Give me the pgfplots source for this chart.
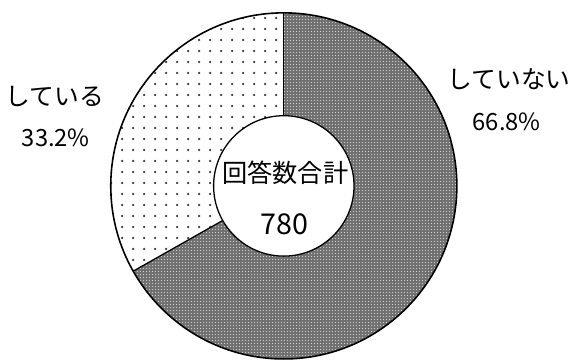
\documentclass[border=0pt]{standalone}
\usepackage{fontspec}
\setmainfont{Noto Sans CJK JP}
\usepackage{pgfplots}
\usepackage{pgfplotstable}
\pgfplotsset{compat=1.18}
\usetikzlibrary{patterns,patterns.meta}

\tikzdeclarepattern{
  name=sparsedots,
  type=uncolored,
  bounding box={(0,0) and (10.7pt,10.7pt)},
  tile size={(10.7pt,10.7pt)},
  code={\fill (5.35pt,5.35pt) circle (1.3pt);}
}
\tikzdeclarepattern{
  name=finedots,
  type=uncolored,
  bounding box={(0,0) and (3pt,3pt)},
  tile size={(3pt,3pt)},
  code={\fill (1.5pt,1.5pt) circle (0.6pt);}
}

% share of answers (%), total 780
\pgfplotstableread{
label share
notdoing 66.8
doing 33.2
}\answers

\begin{document}
\begin{tikzpicture}
\pgfplotstablegetelem{0}{share}\of\answers \let\shareA\pgfplotsretval
\pgfplotstablegetelem{1}{share}\of\answers \let\shareB\pgfplotsretval
\pgfmathsetmacro{\angA}{90-3.6*\shareA}
\begin{axis}[
    hide axis,
    scale only axis,
    width=574pt, height=362pt,
    xmin=0, xmax=574, ymin=0, ymax=362,
    clip=false,
]
\path (axis cs:0,0) rectangle (axis cs:574,362);
\def\Rout{175pt}\def\Rin{71pt}
% slice: していない
\fill[black!56] (axis cs:287,174) ++(90:\Rout) arc[start angle=90, end angle=\angA, radius=\Rout]
   -- (axis cs:287,174) -- cycle;
\fill[pattern=finedots, pattern color=white!80!black] (axis cs:287,174) ++(90:\Rout) arc[start angle=90, end angle=\angA, radius=\Rout]
   -- (axis cs:287,174) -- cycle;
% slice: している
\fill[pattern=sparsedots, pattern color=black!80] (axis cs:287,174) ++(\angA:\Rout) arc[start angle=\angA, end angle=-270, radius=\Rout]
   -- (axis cs:287,174) -- cycle;
\draw[line width=1.3pt] (axis cs:287,174) -- ++(90:\Rout);
\draw[line width=1.3pt] (axis cs:287,174) -- ++(\angA:\Rout);
\draw[line width=1.6pt] (axis cs:287,174) circle[radius=\Rout];
\fill[white, draw=black, line width=1.3pt] (axis cs:287,174) circle[radius=\Rin];
% labels
\node[anchor=base, font=\fontsize{25}{28}\selectfont] at (axis cs:55.5,255) {している};
\node[anchor=base, font=\fontsize{24}{27}\selectfont] at (axis cs:56.5,214) {\shareB\%};
\node[anchor=base, font=\fontsize{25}{28}\selectfont] at (axis cs:515,273) {していない};
\node[anchor=base, font=\fontsize{24}{27}\selectfont] at (axis cs:512.5,230) {\shareA\%};
\node[anchor=base, font=\fontsize{25.5}{28}\selectfont] at (axis cs:288.5,177) {回答数合計};
\node[anchor=base, font=\fontsize{29}{32}\selectfont] at (axis cs:287.5,125) {780};
\end{axis}
\end{tikzpicture}
\end{document}
